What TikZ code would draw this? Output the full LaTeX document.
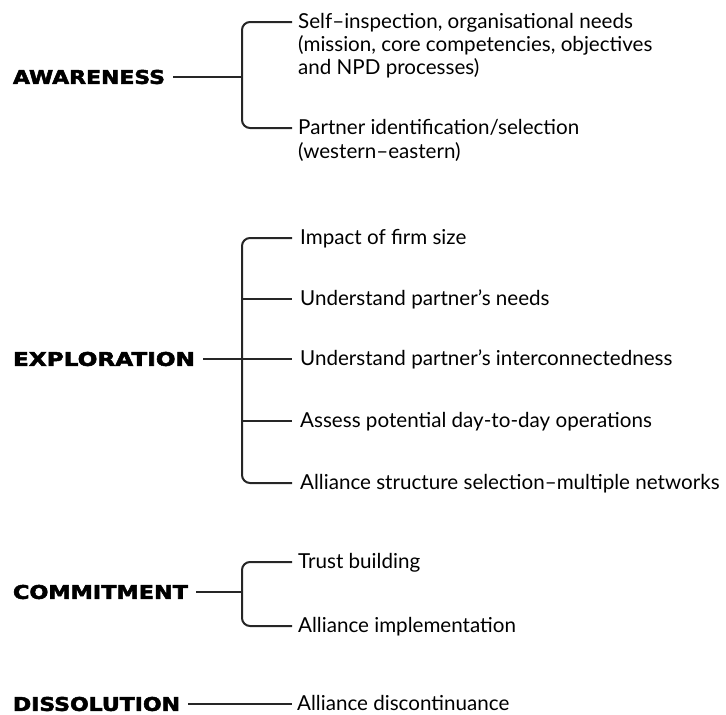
\documentclass[tikz,border=0pt]{standalone}
\usepackage{fontspec}
\setmainfont{Lato}
\newfontfamily\stagefont[BoldFeatures={FakeBold=2.5}]{DejaVu Sans}
\begin{document}
\begin{tikzpicture}[x=1pt,y=-1pt,
  wire/.style={line width=2pt,draw=black!85},
  brace/.style={wire,rounded corners=8pt},
  stage/.style={anchor=west,inner sep=0pt,outer xsep=8pt},
  item/.style={anchor=base west,inner sep=0pt,font=\fontsize{20.6}{24}\selectfont,text=black}
]
\useasboundingbox (0,0) rectangle (726,715);
% stage labels, stretched to the heavy wide capitals
\newcommand{\stagelabel}[2]{\resizebox{#1}{14pt}{\stagefont\bfseries #2}}
\node[stage] (aw) at (5,77) {\stagelabel{152pt}{AWARENESS}};
\node[stage] (ex) at (5,359) {\stagelabel{182pt}{EXPLORATION}};
\node[stage] (co) at (5,592) {\stagelabel{175pt}{COMMITMENT}};
\node[stage] (di) at (5,704) {\stagelabel{167pt}{DISSOLUTION}};

% bracket trunk x position and item text start
\coordinate (bx) at (242,0);
\coordinate (ix) at (292,0);

% awareness items
\node[item] (a1) at (298,28.5) {Self--inspection, organisational needs};
\node[item] (a1b) at (298,51.5) {(mission, core competencies, objectives};
\node[item] (a1c) at (298,74.5) {and NPD processes)};
\node[item] (a2) at (298,134.5) {Partner identification/selection};
\node[item] (a2b) at (298,158.5) {(western--eastern)};
\coordinate (a1w) at (ix |- 0,22);
\coordinate (a2w) at (ix |- 0,128);

% exploration items
\node[item] (e1) at (300,244.5) {Impact of firm size};
\node[item] (e2) at (300,305.5) {Understand partner's needs};
\node[item] (e3) at (300,365.5) {Understand partner's interconnectedness};
\node[item] (e4) at (300,427.5) {Assess potential day-to-day operations};
\node[item] (e5) at (300,489.5) {Alliance structure selection--multiple networks};
\coordinate (e1w) at (ix |- 0,238);
\coordinate (e2w) at (ix |- 0,299);
\coordinate (e3w) at (ix |- 0,359);
\coordinate (e4w) at (ix |- 0,421);
\coordinate (e5w) at (ix |- 0,483);

% commitment items
\node[item] (c1) at (298,568.5) {Trust building};
\node[item] (c2) at (298,632.5) {Alliance implementation};
\coordinate (c1w) at (ix |- 0,562);
\coordinate (c2w) at (ix |- 0,626);

% dissolution item
\node[item] (d1) at (297,710.5) {Alliance discontinuance};
\coordinate (d1w) at (ix |- 0,704);

% awareness bracket
\draw[brace] (a1w) -- (a1w -| bx) -- (a2w -| bx) -- (a2w);
\draw[wire] (aw.east) -- (aw.east -| bx);

% exploration bracket
\draw[brace] (e1w) -- (e1w -| bx) -- (e5w -| bx) -- (e5w);
\draw[wire] (e2w -| bx) -- (e2w);
\draw[wire] (e3w -| bx) -- (e3w);
\draw[wire] (e4w -| bx) -- (e4w);
\draw[wire] (ex.east) -- (ex.east -| bx);

% commitment bracket
\draw[brace] (c1w) -- (c1w -| bx) -- (c2w -| bx) -- (c2w);
\draw[wire] (co.east) -- (co.east -| bx);

% dissolution link
\draw[wire] (di.east) -- (d1w);
\end{tikzpicture}
\end{document}
